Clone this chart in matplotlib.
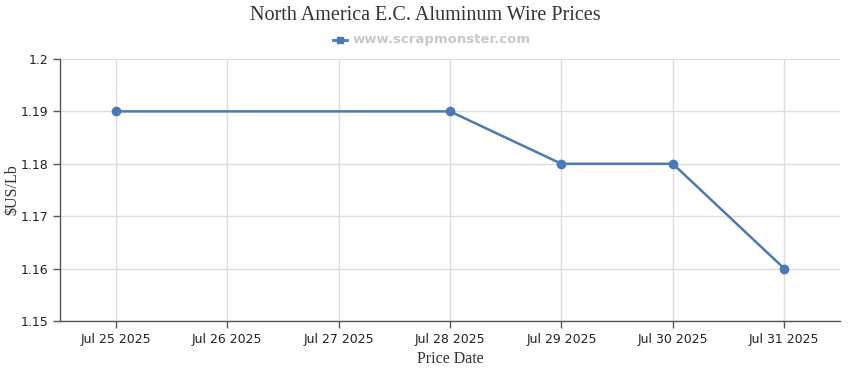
import matplotlib
matplotlib.use("Agg")
import matplotlib.pyplot as plt
import pandas as pd

dates = ["2025-07-25", "2025-07-28", "2025-07-29", "2025-07-30", "2025-07-31"]
prices = [1.19, 1.19, 1.18, 1.18, 1.16]
tick_dates = ["2025-07-25", "2025-07-26", "2025-07-27", "2025-07-28",
              "2025-07-29", "2025-07-30", "2025-07-31"]
y_ticks = [1.15, 1.16, 1.17, 1.18, 1.19, 1.2]
title = "North America E.C. Aluminum Wire Prices"
legend_label = "www.scrapmonster.com"

x = pd.to_datetime(dates)
xt = pd.to_datetime(tick_dates)

fig = plt.figure(figsize=(8.5, 3.7), dpi=100)
ax = fig.add_axes([60/850, 1-321/370, 780/850, 262/370])
line_color = "#4a7ab5"
ax.plot(x, prices, color=line_color, lw=1.8, marker="o", ms=6, zorder=3)

ax.set_ylim(1.15, 1.2)
ax.set_yticks(y_ticks)
ax.set_yticklabels(["1.15", "1.16", "1.17", "1.18", "1.19", "1.2"])
ax.set_xticks(xt)
ax.set_xticklabels([d.strftime("%b %d %Y").replace(" 0", " ") for d in xt])
ax.set_xlim(xt[0] - pd.Timedelta(hours=12), xt[-1] + pd.Timedelta(hours=12))

ax.grid(True, color="#dddddd", lw=1)
ax.set_axisbelow(True)
for s in ["top", "right"]:
    ax.spines[s].set_visible(False)
for s in ["left", "bottom"]:
    ax.spines[s].set_color("#555555")
    ax.spines[s].set_linewidth(1)
ax.tick_params(axis="both", colors="#555555", labelcolor="#222222", labelsize=9,
               length=5, width=1)

ax.set_xlabel("Price Date", family="Liberation Serif", fontsize=11.5, color="#333333", labelpad=4)
fig.text(12/850, 1-190/370, "$US/Lb", rotation=90, ha="center", va="center",
         family="Liberation Serif", fontsize=11.5, color="#333333")

fig.text(0.5, 1-16/370, title, ha="center", va="center", family="Liberation Serif",
         fontsize=14.5, color="#333333")
# legend
fig.lines.append(plt.Line2D([333/850, 347/850], [1-40/370]*2, color=line_color, lw=2,
                            transform=fig.transFigure))
fig.lines.append(plt.Line2D([340/850], [1-40/370], color=line_color, marker="s", ms=5,
                            lw=0, transform=fig.transFigure))
fig.text(353/850, 1-40/370, legend_label, ha="left", va="center", fontsize=9.5,
         fontweight="bold", color="#c8c8c8")

fig.savefig("out.png", dpi=100)
